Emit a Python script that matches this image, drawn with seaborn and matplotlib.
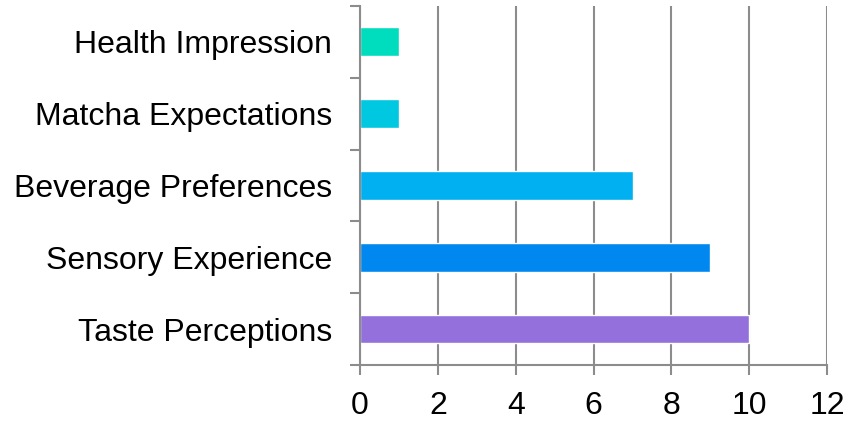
import matplotlib
matplotlib.use("Agg")
import matplotlib.pyplot as plt
import seaborn as sns
import pandas as pd
import numpy as np

categories = ["Health Impression", "Matcha Expectations", "Beverage Preferences",
              "Sensory Experience", "Taste Perceptions"]
counts = [1, 1, 7, 9, 10]
colors = ["#00DDBE", "#00C8E0", "#00B0F0", "#0088F0", "#9370DB"]
x_ticks = [0, 2, 4, 6, 8, 10, 12]

sns.set_theme(style="white")
plt.rcParams["font.family"] = ["Liberation Sans", "DejaVu Sans"]

df = pd.DataFrame({"category": categories, "count": counts})

fig = plt.figure(figsize=(8.51, 4.21), dpi=100)
ax = fig.add_axes([0.423, 0.133, 0.549, 0.853])

grid_color = "#8c8c8c"
ax.set_axisbelow(True)
for x in x_ticks:
    ax.axvline(x, color=grid_color, linewidth=1.5, zorder=0)

sns.barplot(data=df, y="category", x="count", hue="category",
            palette=dict(zip(categories, colors)), order=categories,
            width=0.4, legend=False, ax=ax, zorder=2, saturation=1)

ax.set_xlim(0, 12)
ax.set_ylim(len(categories) - 0.5, -0.5)
ax.set_xticks(x_ticks)
ax.set_xlabel("")
ax.set_ylabel("")

for side in ["top", "right"]:
    ax.spines[side].set_visible(False)
for side in ["left", "bottom"]:
    ax.spines[side].set_color(grid_color)
    ax.spines[side].set_linewidth(1.5)

# Category boundaries carry the tick marks on the y axis
ax.set_yticks(np.arange(-0.5, len(categories), 1.0), minor=True)
ax.tick_params(axis="y", which="major", length=0, labelsize=23, pad=20, colors="black")
ax.tick_params(axis="y", which="minor", length=7, width=1.5, color=grid_color, left=True)
ax.tick_params(axis="x", which="major", length=7, width=1.5, color=grid_color,
               labelsize=23, pad=12, labelcolor="black", bottom=True)

fig.savefig("out.png", dpi=100)
